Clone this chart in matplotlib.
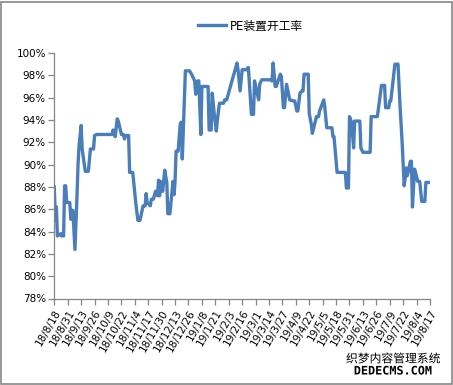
import matplotlib
matplotlib.use("Agg")
import matplotlib.pyplot as plt
from matplotlib.patches import Rectangle
import matplotlib.patheffects as pe
import datetime as dt

plt.rcParams['font.family'] = ['DejaVu Sans', 'Noto Sans CJK SC']

series_name = "PE装置开工率"
start_date = "2018-08-18"
day_offsets = [0, 1, 2, 3, 6, 7, 8, 9, 10, 11, 12, 14, 15, 16, 17, 18, 20, 22, 23, 24,
               26, 27, 30, 33, 35, 38, 39, 41, 54, 56, 57, 59, 61, 62, 65, 67, 68, 69, 72, 73,
               76, 79, 81, 83, 86, 88, 89, 90, 93, 94, 96, 98, 99, 100, 101, 102, 103, 105, 107, 109,
               110, 112, 114, 115, 116, 117, 118, 120, 122, 123, 124, 127, 131, 133, 136, 137, 139, 140, 142, 143,
               149, 150, 152, 153, 155, 157, 158, 160, 164, 165, 167, 177, 178, 180, 182, 186, 188, 191, 193, 194,
               198, 199, 201, 209, 211, 212, 214, 215, 219, 220, 222, 223, 225, 227, 228, 232, 233, 235, 236, 238,
               240, 241, 242, 246, 247, 249, 250, 253, 254, 256, 257, 261, 262, 264, 269, 270, 271, 274, 282, 283,
               285, 286, 288, 290, 291, 296, 297, 299, 306, 307, 313, 317, 320, 321, 324, 325, 326, 330, 333, 335,
               337, 339, 341, 342, 345, 346, 347, 349, 350, 352, 354, 356, 359, 360, 363]
rates = [88.0, 85.0, 86.2, 83.6, 83.8, 83.6, 83.8, 83.6, 88.1, 88.1, 86.6, 86.6, 86.6, 85.1, 85.9, 85.9, 82.4, 87.2, 90.0, 91.7,
         93.5, 91.4, 89.4, 89.4, 91.4, 91.4, 92.6, 92.7, 92.7, 92.7, 93.1, 92.5, 94.1, 93.9, 92.7, 92.7, 92.3, 92.6, 92.6, 89.3,
         89.3, 86.5, 85.0, 85.0, 86.3, 86.3, 87.4, 86.6, 86.3, 86.9, 86.9, 87.6, 87.6, 87.2, 88.6, 87.2, 88.5, 87.6, 89.5, 88.4,
         85.6, 85.6, 87.6, 88.5, 87.3, 88.5, 91.2, 91.2, 93.6, 93.8, 90.5, 98.4, 98.4, 98.1, 97.5, 96.3, 97.5, 97.5, 92.7, 97.0,
         97.0, 93.1, 93.1, 96.4, 94.5, 93.0, 94.0, 95.5, 95.5, 95.8, 95.8, 99.1, 98.5, 96.6, 98.5, 98.5, 98.7, 94.5, 94.5, 97.5,
         95.8, 97.2, 97.6, 97.6, 97.5, 99.1, 97.0, 97.0, 98.1, 97.9, 95.1, 95.1, 97.2, 96.3, 95.8, 95.7, 95.7, 94.8, 94.8, 96.4,
         96.6, 96.6, 98.1, 98.1, 94.6, 93.6, 92.8, 93.9, 94.3, 94.3, 94.8, 95.8, 95.2, 93.3, 93.3, 92.5, 92.5, 89.3, 89.3, 87.9,
         87.9, 94.3, 93.8, 91.5, 93.9, 93.9, 91.5, 91.1, 91.1, 94.3, 94.3, 97.1, 97.1, 95.1, 95.1, 95.7, 95.7, 99.0, 99.0, 95.2,
         92.0, 88.1, 89.7, 89.0, 90.3, 90.3, 86.2, 89.6, 89.3, 88.5, 88.5, 86.7, 86.7, 88.4, 88.4]
tick_labels = ["18/8/18", "18/8/31", "18/9/13", "18/9/26", "18/10/9", "18/10/22", "18/11/4", "18/11/17",
               "18/11/30", "18/12/13", "18/12/26", "19/1/8", "19/1/21", "19/2/3", "19/2/16", "19/3/1",
               "19/3/14", "19/3/27", "19/4/9", "19/4/22", "19/5/5", "19/5/18", "19/5/31", "19/6/13",
               "19/6/26", "19/7/9", "19/7/22", "19/8/4", "19/8/17"]
y_ticks = [78, 80, 82, 84, 86, 88, 90, 92, 94, 96, 98, 100]
watermark_cn = "织梦内容管理系统"
watermark_en = "DEDECMS.COM"

d0 = dt.datetime.strptime(start_date, "%Y-%m-%d")
dates = [d0 + dt.timedelta(days=d) for d in day_offsets]
tick_dates = [dt.datetime.strptime("20" + s, "%Y/%m/%d") for s in tick_labels]

W, H = 453, 385
fig = plt.figure(figsize=(W / 100, H / 100), dpi=100)
fig.patch.set_facecolor('white')
ax = fig.add_axes([54.3 / W, 1 - 298.5 / H, (430 - 54.3) / W, (298.5 - 53) / H])

ax.plot(dates, rates, color='#4a7ebb', lw=2.4, solid_joinstyle='round', label=series_name)
ax.set_xlim(tick_dates[0], tick_dates[-1])
ax.set_ylim(78, 100)
ax.set_yticks(y_ticks)
ax.set_yticklabels([f"{v}%" for v in y_ticks], fontsize=7.5)
ax.set_xticks(tick_dates)
ax.set_xticklabels(tick_labels, fontsize=7.5, rotation=60, ha='right', va='top', rotation_mode='anchor')
for s in ['top', 'right']:
    ax.spines[s].set_visible(False)
for s in ['left', 'bottom']:
    ax.spines[s].set_color('#868686')
    ax.spines[s].set_linewidth(0.9)
ax.tick_params(axis='both', direction='out', length=4, width=0.9, color='#868686', pad=2)
ax.tick_params(axis='x', pad=3)

ax.legend(loc='center', bbox_to_anchor=(250 / W, 1 - 26 / H), bbox_transform=fig.transFigure,
          frameon=False, handlelength=2.4, handletextpad=0.3,
          prop={'family': ['DejaVu Sans', 'Noto Sans CJK SC'], 'size': 8.5})

fig.patches.append(Rectangle((0.002, 0.002), 0.996, 0.994, transform=fig.transFigure,
                             fill=False, edgecolor='#868686', lw=1.2))

fig.text(393 / W, 1 - 359 / H, watermark_cn, fontsize=8.5, ha='center', va='center',
         family=['Noto Sans CJK SC', 'DejaVu Sans'], color='black',
         path_effects=[pe.withStroke(linewidth=2.5, foreground='white')])
fig.text(393 / W, 1 - 371 / H, watermark_en, fontsize=8.5, ha='center', va='center',
         weight='bold', family='DejaVu Sans Mono', color='black',
         path_effects=[pe.withStroke(linewidth=2.5, foreground='white')])

fig.savefig("out.png", dpi=100)
